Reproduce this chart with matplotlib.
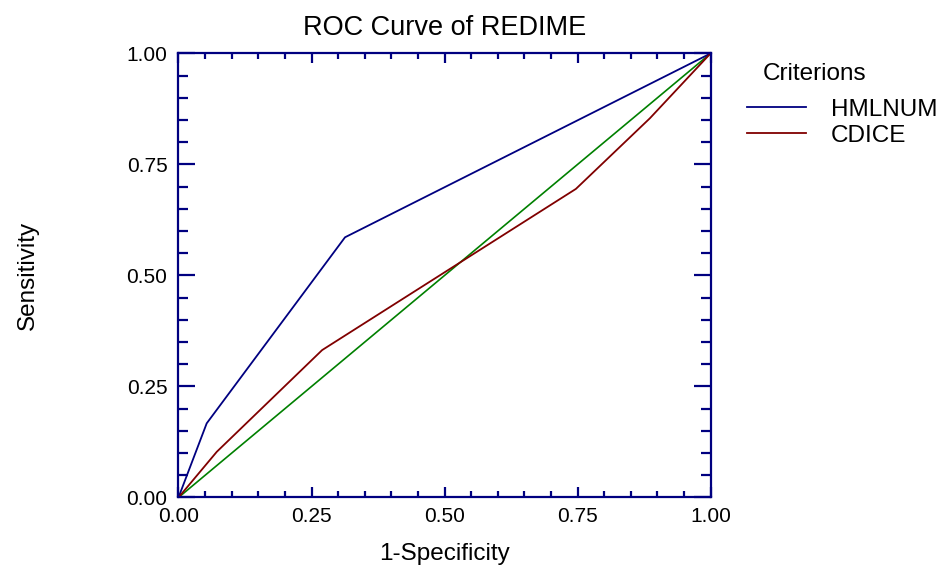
import matplotlib
matplotlib.use('Agg')
import matplotlib.pyplot as plt
from matplotlib.ticker import MultipleLocator

plt.rcParams['font.family'] = ['Liberation Sans', 'DejaVu Sans']

# ROC points
hmlnum_fpr = [0.0, 0.053, 0.313, 1.0]
hmlnum_tpr = [0.0, 0.167, 0.586, 1.0]
cdice_fpr = [0.0, 0.072, 0.270, 0.747, 0.886, 1.0]
cdice_tpr = [0.0, 0.103, 0.332, 0.695, 0.854, 1.0]
diag = [0.0, 1.0]

ticks = [0.0, 0.25, 0.5, 0.75, 1.0]
tick_labels = ['0.00', '0.25', '0.50', '0.75', '1.00']

navy = '#000080'

fig = plt.figure(figsize=(9.36, 5.70), dpi=100)
ax = fig.add_axes([0.1907, 0.1272, 0.5684, 0.779])

ax.plot(diag, diag, color='#008000', lw=1.2)
l1, = ax.plot(hmlnum_fpr, hmlnum_tpr, color=navy, lw=1.3, label='HMLNUM')
l2, = ax.plot(cdice_fpr, cdice_tpr, color='#800000', lw=1.3, label='CDICE')

ax.set_xlim(0, 1)
ax.set_ylim(0, 1)
ax.set_xticks(ticks)
ax.set_xticklabels(tick_labels)
ax.set_yticks(ticks)
ax.set_yticklabels(tick_labels)
ax.xaxis.set_minor_locator(MultipleLocator(0.05))
ax.yaxis.set_minor_locator(MultipleLocator(0.05))

for s in ax.spines.values():
    s.set_color(navy)
    s.set_linewidth(1.6)

ax.tick_params(which='both', direction='in', color=navy, width=1.6,
               top=True, right=True, labelsize=15)
ax.tick_params(axis='x', which='major', length=7, pad=7)
ax.tick_params(axis='x', which='minor', length=4.5)
ax.tick_params(axis='y', which='major', length=12, pad=8)
ax.tick_params(axis='y', which='minor', length=7)

ax.set_title('ROC Curve of REDIME', fontsize=19.5, pad=13)
ax.set_xlabel('1-Specificity', fontsize=17.5, labelpad=12)
ax.set_ylabel('Sensitivity', fontsize=17.5, labelpad=63)

fig.text(0.870, 1 - 74 / 570, 'Criterions', fontsize=17.5, ha='center', va='center')
leg = fig.legend(handles=[l1, l2], loc='upper left', bbox_to_anchor=(0.798, 0.827),
                 frameon=False, fontsize=17.5, borderaxespad=0, borderpad=0,
                 handlelength=2.45, handletextpad=1.0, labelspacing=0.17)

fig.savefig('out.png', dpi=100)
